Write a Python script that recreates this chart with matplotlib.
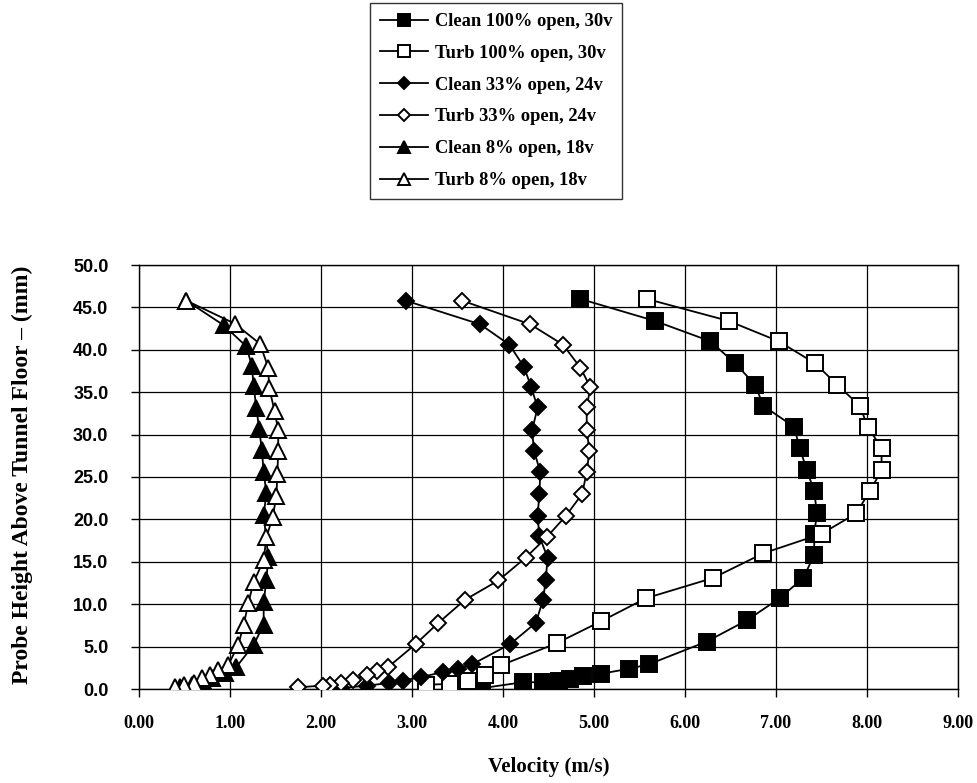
import matplotlib
matplotlib.use("Agg")
import matplotlib.pyplot as plt
from matplotlib.ticker import FormatStrFormatter

# ---- data (velocity m/s, height mm) ----
clean100_v = [4.85, 5.67, 6.28, 6.55, 6.77, 6.86, 7.20, 7.26, 7.34, 7.42, 7.45, 7.42, 7.42, 7.30, 7.04, 6.68, 6.24, 5.60, 5.39, 5.08, 4.88, 4.74, 4.61, 4.44, 4.22, 3.77]
clean100_h = [46.0, 43.4, 41.0, 38.4, 35.9, 33.4, 30.9, 28.4, 25.8, 23.3, 20.7, 18.3, 15.8, 13.1, 10.7, 8.1, 5.6, 2.9, 2.4, 1.8, 1.5, 1.2, 1.0, 0.8, 0.8, 0.1]

turb100_v = [5.58, 6.48, 7.03, 7.43, 7.67, 7.92, 8.01, 8.16, 8.16, 8.03, 7.88, 7.50, 6.86, 6.31, 5.57, 5.08, 4.59, 3.98, 3.80, 3.62, 3.42, 3.15]
turb100_h = [46.0, 43.4, 41.0, 38.4, 35.9, 33.4, 30.9, 28.4, 25.8, 23.3, 20.7, 18.3, 16.0, 13.1, 10.7, 8.0, 5.4, 2.8, 1.6, 1.0, 0.6, 0.5]

clean33_v = [2.93, 3.75, 4.07, 4.23, 4.31, 4.38, 4.32, 4.34, 4.41, 4.40, 4.38, 4.40, 4.49, 4.47, 4.44, 4.36, 4.08, 3.66, 3.51, 3.34, 3.10, 2.90, 2.75, 2.50, 2.22]
clean33_h = [45.8, 43.0, 40.6, 38.0, 35.6, 33.2, 30.5, 28.1, 25.6, 23.0, 20.4, 18.0, 15.5, 12.9, 10.5, 7.8, 5.3, 2.9, 2.4, 2.0, 1.4, 1.0, 0.7, 0.4, 0.1]

turb33_v = [3.55, 4.30, 4.66, 4.85, 4.96, 4.92, 4.92, 4.95, 4.92, 4.87, 4.69, 4.48, 4.25, 3.95, 3.58, 3.29, 3.04, 2.74, 2.62, 2.50, 2.35, 2.22, 2.10, 2.02, 1.75]
turb33_h = [45.8, 43.0, 40.6, 37.9, 35.6, 33.2, 30.5, 28.1, 25.6, 23.0, 20.4, 17.9, 15.5, 12.8, 10.5, 7.8, 5.3, 2.6, 2.1, 1.6, 1.1, 0.7, 0.5, 0.4, 0.2]

clean8_v = [0.52, 0.93, 1.18, 1.24, 1.26, 1.29, 1.32, 1.35, 1.37, 1.40, 1.37, 1.42, 1.40, 1.37, 1.37, 1.26, 1.07, 0.95, 0.80, 0.70, 0.58, 0.45]
clean8_h = [45.8, 42.9, 40.4, 38.1, 35.7, 33.1, 30.7, 28.2, 25.6, 23.1, 20.5, 15.6, 12.8, 10.3, 7.6, 5.2, 2.6, 1.9, 1.3, 0.9, 0.5, 0.2]

turb8_v = [0.52, 1.05, 1.33, 1.42, 1.43, 1.49, 1.53, 1.53, 1.52, 1.51, 1.47, 1.40, 1.37, 1.26, 1.20, 1.15, 1.09, 0.98, 0.87, 0.78, 0.69, 0.60, 0.49, 0.40]
turb8_h = [45.8, 43.1, 40.7, 37.9, 35.5, 32.8, 30.5, 28.1, 25.3, 22.8, 20.3, 17.9, 15.2, 12.6, 10.1, 7.5, 5.2, 2.8, 2.2, 1.6, 1.3, 0.7, 0.5, 0.2]

labels = ["Clean 100% open, 30v", "Turb 100% open, 30v", "Clean 33% open, 24v",
          "Turb 33% open, 24v", "Clean 8% open, 18v", "Turb 8% open, 18v"]

x_ticks = [0, 1, 2, 3, 4, 5, 6, 7, 8, 9]
y_ticks = [0, 5, 10, 15, 20, 25, 30, 35, 40, 45, 50]

serif = ["Liberation Serif", "DejaVu Serif"]
sans = ["Liberation Sans", "DejaVu Sans"]

fig = plt.figure(figsize=(9.77, 7.83), dpi=100)
ax = fig.add_axes([139/977, 1-689/783, (958-139)/977, (689-265)/783])

series = [
    (clean100_v, clean100_h, "s", "black", 11.5),
    (turb100_v, turb100_h, "s", "white", 11.5),
    (clean33_v, clean33_h, "D", "black", 8.5),
    (turb33_v, turb33_h, "D", "white", 8.5),
    (clean8_v, clean8_h, "^", "black", 11),
    (turb8_v, turb8_h, "^", "white", 11),
]
handles = []
for (v, h, m, fc, ms), lab in zip(series, labels):
    ln, = ax.plot(v, h, color="black", lw=1.3, marker=m, markersize=ms,
                  markerfacecolor=fc, markeredgecolor="black", markeredgewidth=1.4,
                  label=lab, zorder=3)
    handles.append(ln)

ax.set_xlim(0, 9)
ax.set_ylim(0, 50)
ax.set_xticks(x_ticks)
ax.set_yticks(y_ticks)
ax.xaxis.set_major_formatter(FormatStrFormatter("%.2f"))
ax.yaxis.set_major_formatter(FormatStrFormatter("%.1f"))
ax.grid(True, color="black", lw=0.9)
ax.set_axisbelow(True)
for s in ax.spines.values():
    s.set_color("black")
    s.set_linewidth(1.0)
ax.tick_params(axis="both", direction="out", length=6, width=1, color="black")
ax.tick_params(axis="x", pad=13)
ax.tick_params(axis="y", pad=16)
for t in ax.get_xticklabels():
    t.set_fontfamily(serif)
    t.set_fontweight("bold")
    t.set_fontsize(13)
for t in ax.get_yticklabels():
    t.set_fontfamily(sans)
    t.set_fontweight("bold")
    t.set_fontsize(13)

ax.set_xlabel("Velocity (m/s)", family=serif, fontweight="bold", fontsize=15, labelpad=18)
fig.text(22/977, 1-475/783, "Probe Height Above Tunnel Floor \u2013 (mm)", family=serif,
         fontweight="bold", fontsize=17, rotation=90, ha="center", va="center")

leg = fig.legend(handles=handles, labels=labels, loc="upper left",
                 bbox_to_anchor=(370/977, 1-3/783), borderaxespad=0.0,
                 frameon=True, fancybox=False,
                 edgecolor="black", handlelength=2.6, labelspacing=0.8,
                 borderpad=0.55, handletextpad=0.35,
                 prop={"family": serif, "weight": "bold", "size": 13.3})
leg.get_frame().set_linewidth(1.0)
for lh in leg.legend_handles:
    lh.set_markersize(lh.get_markersize() * 0.75)

fig.savefig("out.png", dpi=100)
